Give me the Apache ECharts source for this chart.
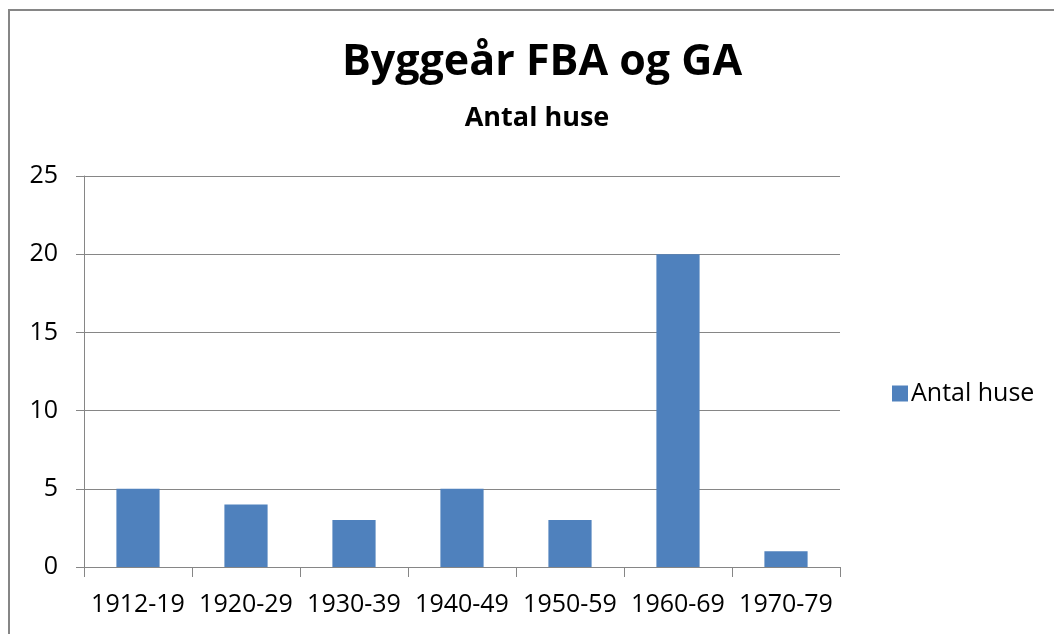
<!DOCTYPE html>
<html>
<head>
<meta charset="utf-8">
<script src="https://cdn.jsdelivr.net/npm/echarts@6/dist/echarts.min.js"></script>
<style>
html,body{margin:0;padding:0;background:#fff;}
#frame{position:absolute;left:8px;top:9px;width:1100px;height:700px;border-left:2px solid #868686;border-top:2px solid #868686;}
#chart{position:absolute;left:0;top:0;width:1054px;height:634px;}
</style>
</head>
<body>
<div id="frame"></div>
<div id="chart"></div>
<script>
const categories = ['1912-19','1920-29','1930-39','1940-49','1950-59','1960-69','1970-79'];
const antalHuse = [5,4,3,5,3,20,1];
const yTicks = {min:0, max:25, interval:5};
const titleText = 'Byggeår FBA og GA';
const subtitleText = 'Antal huse';
const seriesName = 'Antal huse';

const font = '"Open Sans", sans-serif';
const chart = echarts.init(document.getElementById('chart'));
chart.setOption({
  backgroundColor: 'transparent',
  animation: false,
  title: [{
    text: titleText,
    left: 537, top: 36, textAlign: 'center',
    textStyle: {fontFamily: font, fontWeight: 'bold', fontSize: 43, color: '#000'}
  }, {
    text: subtitleText,
    left: 532, top: 100, textAlign: 'center',
    textStyle: {fontFamily: font, fontWeight: 'bold', fontSize: 27, color: '#000'}
  }],
  legend: {
    data: [seriesName],
    left: 887, top: 376,
    itemWidth: 16, itemHeight: 16, itemGap: 8,
    icon: 'rect',
    textStyle: {fontFamily: font, fontSize: 25, color: '#000', padding: [0,0,0,-2]}
  },
  grid: {left: 84, right: 1054-840, top: 176, bottom: 634-567, containLabel: false},
  xAxis: {
    type: 'category',
    data: categories,
    axisLine: {lineStyle: {color: '#868686', width: 1}},
    axisTick: {show: true, length: 10, alignWithLabel: false, lineStyle: {color: '#868686'}},
    axisLabel: {fontFamily: font, fontSize: 25, color: '#000', margin: 25, interval: 0}
  },
  yAxis: {
    type: 'value',
    min: yTicks.min, max: yTicks.max, interval: yTicks.interval,
    axisLine: {show: true, lineStyle: {color: '#868686', width: 1}},
    axisTick: {show: true, length: 8, lineStyle: {color: '#868686'}},
    splitLine: {lineStyle: {color: '#868686', width: 1}},
    axisLabel: {fontFamily: font, fontSize: 25, color: '#000', margin: 26}
  },
  series: [{
    name: seriesName,
    type: 'bar',
    data: antalHuse,
    barWidth: '40%',
    itemStyle: {color: '#4F81BD'}
  }]
});
</script>
</body>
</html>
